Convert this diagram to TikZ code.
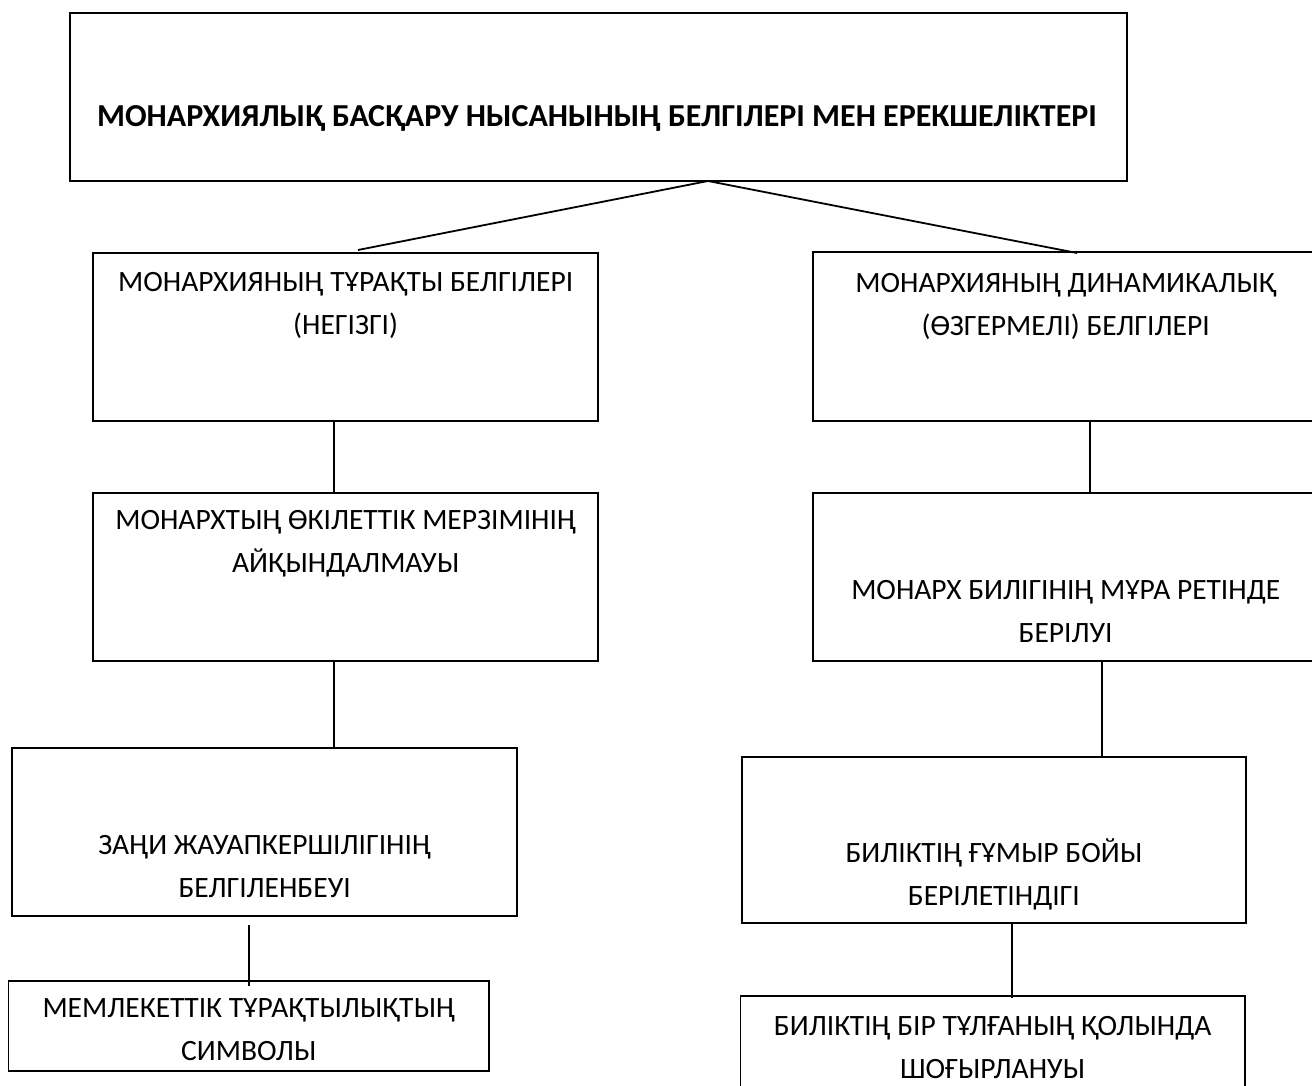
\documentclass[tikz,border=0pt]{standalone}
\usepackage{fontspec}
\setmainfont{Carlito}
\begin{document}
\begin{tikzpicture}[x=1pt,y=-1pt,
  box/.style={draw=black,line width=1.8pt,fill=none,inner sep=0pt},
  lbl/.style={align=center,inner sep=0pt,font=\fontsize{29.5}{43}\selectfont},
  conn/.style={draw=black,line width=1.8pt}]
\useasboundingbox (0,0) rectangle (1312,1086);
\clip (0,0) rectangle (1312,1086);
% boxes
\node[box,minimum width=1057pt,minimum height=168pt] (top) at (598.5,96.85) {};
\node[box,minimum width=504.7pt,minimum height=167.4pt] (l1) at (345.65,337) {};
\node[box,minimum width=504.7pt,minimum height=168.4pt] (r1) at (1065.65,336.5) {};
\node[box,minimum width=504.7pt,minimum height=167.4pt] (l2) at (345.65,577) {};
\node[box,minimum width=504.7pt,minimum height=167.7pt] (r2) at (1065.65,576.85) {};
\node[box,minimum width=504.7pt,minimum height=167.7pt] (l3) at (264.65,832.15) {};
\node[box,minimum width=504.3pt,minimum height=166.3pt] (r3) at (993.85,839.85) {};
\node[box,minimum width=480.5pt,minimum height=90.3pt] (l4) at (248.75,1025.85) {};
\node[box,minimum width=504.2pt,minimum height=120pt] (r4) at (992.6,1055.7) {};
% texts
\node[lbl,font=\fontsize{32}{43}\selectfont\bfseries] (topt) at (597,118) {МОНАРХИЯЛЫҚ БАСҚАРУ НЫСАНЫНЫҢ БЕЛГІЛЕРІ МЕН ЕРЕКШЕЛІКТЕРІ};
\node[lbl] (l1t) at (345.65,305) {МОНАРХИЯНЫҢ ТҰРАҚТЫ БЕЛГІЛЕРІ\\(НЕГІЗГІ)};
\node[lbl] (r1t) at (1065.65,306.5) {МОНАРХИЯНЫҢ ДИНАМИКАЛЫҚ\\(ӨЗГЕРМЕЛІ) БЕЛГІЛЕРІ};
\node[lbl] (l2t) at (345.65,544.2) {МОНАРХТЫҢ ӨКІЛЕТТІК МЕРЗІМІНІҢ\\АЙҚЫНДАЛМАУЫ};
\node[lbl] (r2t) at (1065.65,612) {МОНАРХ БИЛІГІНІҢ МҰРА РЕТІНДЕ\\БЕРІЛУІ};
\node[lbl] (l3t) at (264.65,867) {ЗАҢИ ЖАУАПКЕРШІЛІГІНІҢ\\БЕЛГІЛЕНБЕУІ};
\node[lbl] (r3t) at (993.85,874) {БИЛІКТІҢ ҒҰМЫР БОЙЫ\\БЕРІЛЕТІНДІГІ};
\node[lbl] (l4t) at (248.75,1030) {МЕМЛЕКЕТТІК ТҰРАҚТЫЛЫҚТЫҢ\\СИМВОЛЫ};
\node[lbl] (r4t) at (992.6,1047.3) {БИЛІКТІҢ БІР ТҰЛҒАНЫҢ ҚОЛЫНДА\\ШОҒЫРЛАНУЫ};
% connector points
\coordinate (j) at (708,181);
\coordinate (l1in) at (358,250);
\coordinate (r1in) at (1077,253);
\coordinate (l3out) at (249,925);
\coordinate (l4in) at (249,986);
\coordinate (r3out) at (1012,923);
\coordinate (r4in) at (1012,998);
% connectors
\draw[conn] (j) -- (l1in);
\draw[conn] (j) -- (r1in);
\draw[conn] (l1.south -| 334,0) -- (l2.north -| 334,0);
\draw[conn] (l2.south -| 334,0) -- (l3.north -| 334,0);
\draw[conn] (l3out) -- (l4in);
\draw[conn] (r1.south -| 1090,0) -- (r2.north -| 1090,0);
\draw[conn] (r2.south -| 1102,0) -- (r3.north -| 1102,0);
\draw[conn] (r3out) -- (r4in);
\end{tikzpicture}
\end{document}
